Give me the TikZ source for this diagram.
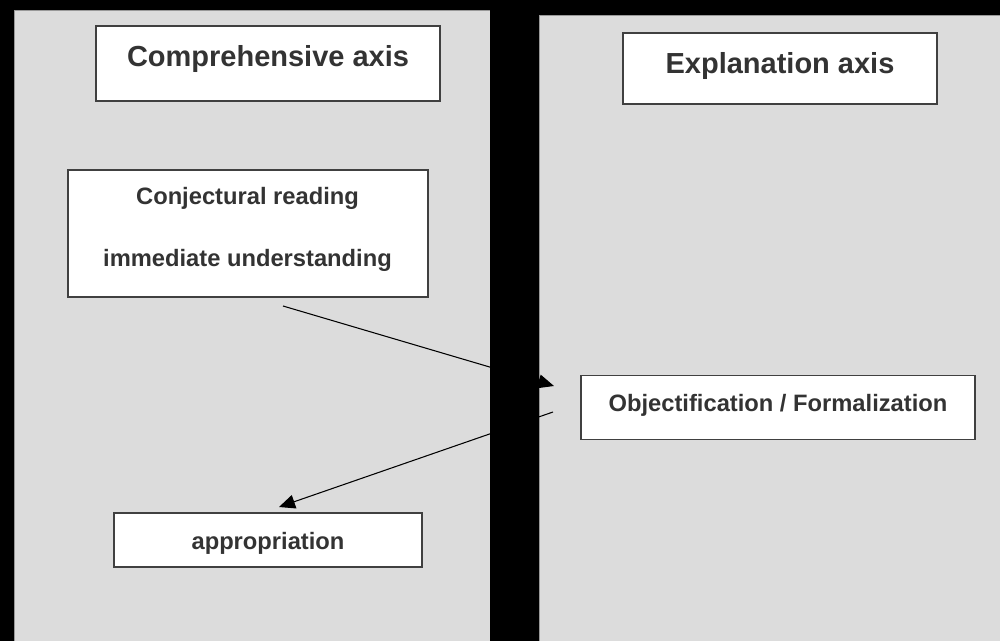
\documentclass[tikz,border=0pt]{standalone}
\usepackage{fontspec}
\setmainfont{Liberation Sans}
\usetikzlibrary{arrows.meta}
\definecolor{panelgray}{HTML}{DCDCDC}
\definecolor{boxgray}{HTML}{404040}
\definecolor{txtgray}{HTML}{333333}
\tikzset{
  panel/.style={fill=panelgray,draw=black!40,line width=.5pt},
  box/.style={draw=boxgray,fill=white,line width=.8pt,inner sep=0pt},
  title/.style={anchor=base,text=txtgray,font=\fontsize{16.5}{18}\selectfont\bfseries},
  lbl/.style={anchor=base,text=txtgray,font=\fontsize{13.5}{15}\selectfont\bfseries},
  link/.style={line width=.6pt,-{Triangle[length=.32cm,width=.28cm]}}
}
\begin{document}
\begin{tikzpicture}[x=0.02cm,y=-0.02cm]
\fill[black](0,0)rectangle(1000,641);
\useasboundingbox(0,0)rectangle(1000,641);
\draw[panel](14,10)rectangle(490,650);
\draw[panel](539,15)rectangle(1010,650);
\node[box,minimum width=6.88cm,minimum height=1.5cm](comp)at(268,63.5){};
\node[box,minimum width=6.28cm,minimum height=1.42cm](expl)at(780,68.5){};
\node[box,minimum width=7.2cm,minimum height=2.54cm](conj)at(248,233.5){};
\node[box,minimum width=7.88cm,minimum height=1.28cm](obj)at(778,407.5){};
\node[box,minimum width=6.16cm,minimum height=1.08cm](appr)at(268,540){};
\node[title](comptxt)at(268,67){Comprehensive axis};
\node[title](expltxt)at(780,74){Explanation axis};
\node[lbl](conjtxt)at(247.5,205){Conjectural reading};
\node[lbl](immtxt)at(247.5,267){immediate understanding};
\node[lbl](objtxt)at(778,411.5){Objectification / Formalization};
\node[lbl](apprtxt)at(268,549){appropriation};
\coordinate(c1)at(283,306);
\coordinate(o1)at(554,386);
\coordinate(o2)at(553,412);
\coordinate(a1)at(279,507);
\draw[link](c1)--(o1);
\draw[link](o2)--(a1);
\fill[black](490,0)rectangle(539,641);
\end{tikzpicture}
\end{document}
